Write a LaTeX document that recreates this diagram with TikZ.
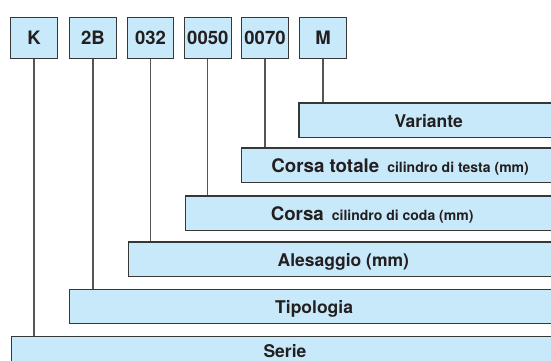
\documentclass[tikz,border=0pt]{standalone}
\usepackage{fontspec}
\setmainfont{TeX Gyre Heros}
\definecolor{barfill}{RGB}{200,233,249}
\definecolor{edge}{RGB}{55,55,55}
\definecolor{conn}{RGB}{85,85,85}
\definecolor{ink}{RGB}{35,31,32}
\begin{document}
\begin{tikzpicture}[x=1pt,y=-1pt,
  codebox/.style={draw=edge,line width=1.2pt,fill=barfill,text=ink,inner sep=0pt,
    minimum width=46.6pt,minimum height=41.4pt,text height=14pt,text depth=0pt,
    font=\fontsize{18.5}{20}\selectfont\bfseries},
  bar/.style={draw=edge,line width=1.2pt,fill=barfill,text=ink,inner sep=0pt,
    anchor=north west,minimum height=34.5pt,text height=14.5pt,text depth=0pt,
    font=\fontsize{17.5}{19}\selectfont\bfseries},
  link/.style={draw=conn,line width=1.1pt}]
\useasboundingbox (0,0) rectangle (551,361);
\clip (0,0) rectangle (551,361);
\newcommand{\smalltxt}[1]{{\fontsize{14}{16}\selectfont #1}}
\newcommand{\corsatxt}[1]{{\fontsize{18.7}{20}\selectfont #1}}
% top code boxes
\node[codebox] (K) at (34,38) {K};
\node[codebox] (B) at (93,38) {2B};
\node[codebox] (A) at (150.5,38) {032};
\node[codebox] (C) at (207.8,38) {0050};
\node[codebox] (T) at (265,38) {0070};
\node[codebox] (M) at (323,38) {M};
% bars
\node[bar,minimum width=259.7pt] (var) at (298.3,102.3) {Variante};
\node[bar,minimum width=317pt] (ctot) at (241,147.3) {\corsatxt{Corsa totale}\hspace{8pt}\smalltxt{cilindro di testa (mm)}};
\node[bar,minimum width=373pt] (cor) at (185,195.3) {\corsatxt{Corsa}\hspace{8pt}\smalltxt{cilindro di coda (mm)}};
\node[bar,minimum width=430.5pt] (ale) at (127.5,241.3) {Alesaggio (mm)};
\node[bar,minimum width=489pt] (tip) at (69,288.7) {Tipologia};
\node[bar,minimum width=547.3pt,text height=7.5pt] (ser) at (10.7,335.7) {Serie};
% connectors
\draw[link] (K.south) -- (K.south |- ser.north);
\draw[link] (B.south) -- (B.south |- tip.north);
\draw[link] (A.south) -- (A.south |- ale.north);
\draw[link] (C.south) -- (C.south |- cor.north);
\draw[link] (T.south) -- (T.south |- ctot.north);
\draw[link] (M.south) -- (M.south |- var.north);
\end{tikzpicture}
\end{document}
